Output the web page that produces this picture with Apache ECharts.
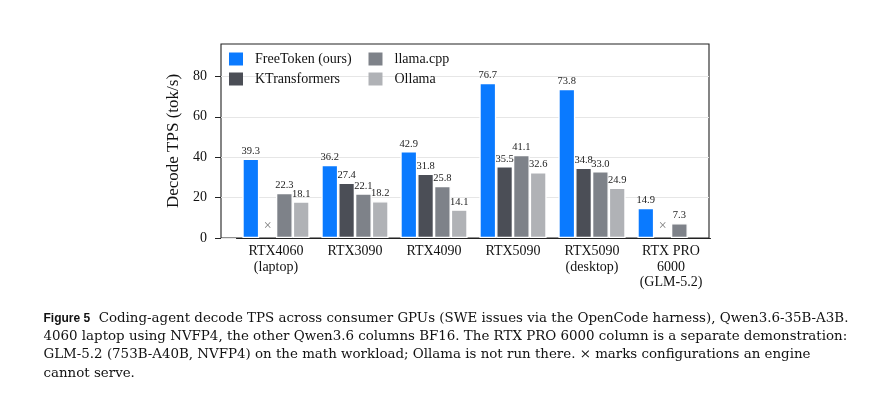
<!DOCTYPE html>
<html lang="en">
<head>
    <meta charset="UTF-8">
    <title>Decode TPS</title>
    <script src="https://cdnjs.cloudflare.com/ajax/libs/echarts/6.0.0/echarts.min.js"></script>
    <style>
        html, body { margin: 0; padding: 0; background: #fff; }
        #container { width: 888px; height: 405px; }
    </style>
</head>
<body>
<div id="container"></div>
<script>
    // data
    var gpus = ['RTX4060\n(laptop)', 'RTX3090', 'RTX4090', 'RTX5090', 'RTX5090\n(desktop)', 'RTX PRO\n6000\n(GLM-5.2)'];
    var freetoken = [39.3, 36.2, 42.9, 76.7, 73.8, 14.9];
    var ktransformers = [null, 27.4, 31.8, 35.5, 34.8, null];
    var llamacpp = [22.3, 22.1, 25.8, 41.1, 33.0, 7.3];
    var ollama = [18.1, 18.2, 14.1, 32.6, 24.9, null];
    // engine that cannot serve a column gets a cross
    var cannotServe = { 'KTransformers': [0, 5] };
    var yTicks = [0, 20, 40, 60, 80];

    var captionLines = [
        'Coding-agent decode TPS across consumer GPUs (SWE issues via the OpenCode harness), Qwen3.6-35B-A3B.',
        '4060 laptop using NVFP4, the other Qwen3.6 columns BF16. The RTX PRO 6000 column is a separate demonstration:',
        'GLM-5.2 (753B-A40B, NVFP4) on the math workload; Ollama is not run there. \u00d7 marks configurations an engine',
        'cannot serve.'
    ];

    var serif = 'Liberation Serif';
    var chart = echarts.init(document.getElementById('container'));

    function barData(name, values) {
        var crosses = cannotServe[name] || [];
        return values.map(function (v, i) {
            if (crosses.indexOf(i) >= 0) {
                return {
                    value: 0,
                    itemStyle: { borderWidth: 0 },
                    label: { formatter: '\u00d7', color: '#7a7a7a', fontSize: 14, distance: 5 }
                };
            }
            return v == null ? '-' : v;
        });
    }

    function makeSeries(name, values, color) {
        return {
            name: name,
            type: 'bar',
            xAxisIndex: 1,
            yAxisIndex: 1,
            barWidth: 16.8,
            barGap: '0%',
            data: barData(name, values),
            itemStyle: { color: color, borderColor: '#fff', borderWidth: 1.3 },
            label: {
                show: true,
                position: 'top',
                distance: 2,
                fontFamily: serif,
                fontSize: 10.5,
                color: '#222',
                formatter: function (p) { return p.value.toFixed(1); }
            }
        };
    }

    var legendText = { fontFamily: serif, fontSize: 14, color: '#111', padding: [0, 0, 0, 7] };

    var caption = captionLines.map(function (line, i) {
        return {
            type: 'text',
            left: 43.5,
            top: 312 + i * 18.2,
            style: {
                text: i === 0 ? '{b|Figure 5}  {n|' + line + '}' : line,
                font: '13.4px "DejaVu Serif"',
                fill: '#111',
                rich: {
                    b: { fontFamily: 'Liberation Sans', fontWeight: 'bold', fontSize: 12, fill: '#111' },
                    n: { fontFamily: 'DejaVu Serif', fontSize: 13.4, fill: '#111' }
                }
            }
        };
    });

    var option = {
        animation: false,
        grid: [
            { left: 221, right: 179, top: 44, bottom: 167, show: true, borderColor: '#222', borderWidth: 1.1 },
            { left: 236.5, right: 177.5, top: 44, bottom: 167 }
        ],
        legend: [
            {
                data: ['FreeToken (ours)', 'KTransformers'],
                orient: 'vertical', left: 229, top: 52, padding: 0,
                itemWidth: 14, itemHeight: 13, itemGap: 6,
                icon: 'rect', itemStyle: { borderWidth: 0 },
                textStyle: legendText
            },
            {
                data: ['llama.cpp', 'Ollama'],
                orient: 'vertical', left: 368.5, top: 52, padding: 0,
                itemWidth: 14, itemHeight: 13, itemGap: 6,
                icon: 'rect', itemStyle: { borderWidth: 0 },
                textStyle: legendText
            }
        ],
        xAxis: [
            { gridIndex: 0, type: 'category', data: gpus, show: false },
            {
                gridIndex: 1,
                type: 'category',
                data: gpus,
                z: 5,
                axisLine: { show: true, lineStyle: { color: '#222', width: 1.1 } },
                axisTick: { show: false },
                axisLabel: { interval: 0, fontFamily: serif, fontSize: 14, lineHeight: 15.5, color: '#111', margin: 6 }
            }
        ],
        yAxis: [
            {
                gridIndex: 0,
                type: 'value',
                min: 0,
                max: 96,
                interval: 20,
                name: 'Decode TPS (tok/s)',
                nameLocation: 'middle',
                nameGap: 31,
                nameTextStyle: { fontFamily: serif, fontSize: 17, color: '#111' },
                axisLine: { show: false },
                axisTick: { show: true, length: 6, customValues: yTicks, lineStyle: { color: '#222' } },
                axisLabel: { customValues: yTicks, fontFamily: serif, fontSize: 14, color: '#111', margin: 14 },
                splitLine: { show: true, lineStyle: { color: '#e6e6e6', width: 1 } }
            },
            { gridIndex: 1, type: 'value', min: 0, max: 96, show: false }
        ],
        series: [
            makeSeries('FreeToken (ours)', freetoken, '#0a7aff'),
            makeSeries('KTransformers', ktransformers, '#4b4e56'),
            makeSeries('llama.cpp', llamacpp, '#7e8289'),
            makeSeries('Ollama', ollama, '#b0b2b6')
        ],
        graphic: caption
    };

    chart.setOption(option);
</script>
</body>
</html>
